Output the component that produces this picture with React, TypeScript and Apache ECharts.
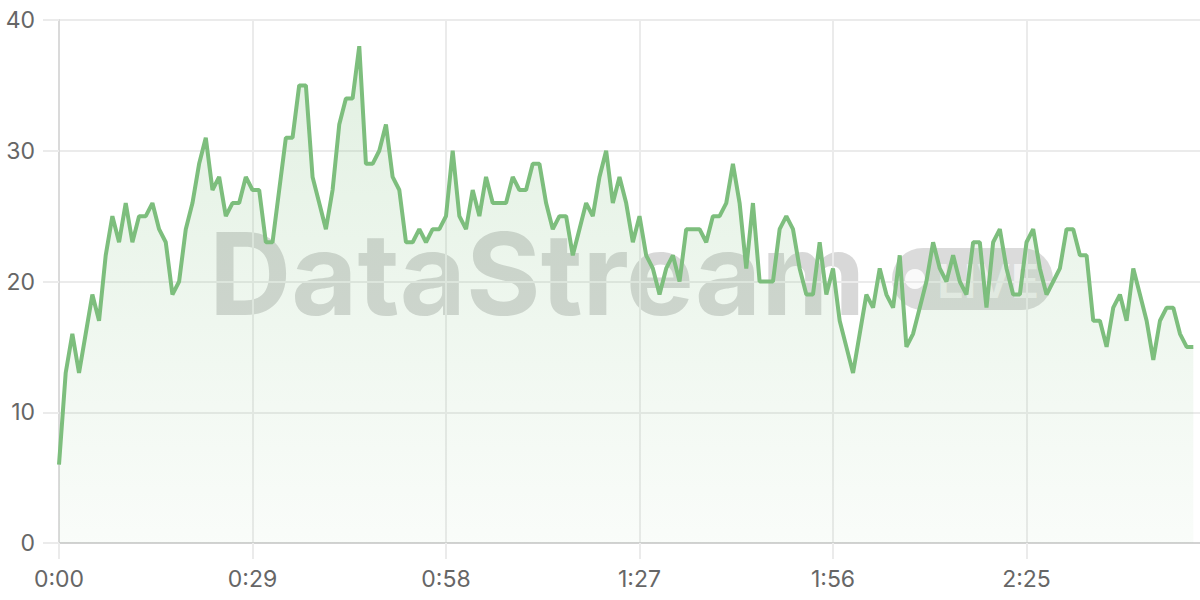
import React, { useEffect, useRef } from "react";
import * as echarts from "echarts";

// one sample per second
const values: number[] = [
  6, 13, 16, 13, 16, 19, 17, 22, 25, 23, 26, 23, 25, 25, 26, 24, 23, 19, 20, 24,
  26, 29, 31, 27, 28, 25, 26, 26, 28, 27, 27, 23, 23, 27, 31, 31, 35, 35, 28, 26,
  24, 27, 32, 34, 34, 38, 29, 29, 30, 32, 28, 27, 23, 23, 24, 23, 24, 24, 25, 30,
  25, 24, 27, 25, 28, 26, 26, 26, 28, 27, 27, 29, 29, 26, 24, 25, 25, 22, 24, 26,
  25, 28, 30, 26, 28, 26, 23, 25, 22, 21, 19, 21, 22, 20, 24, 24, 24, 23, 25, 25,
  26, 29, 26, 21, 26, 20, 20, 20, 24, 25, 24, 21, 19, 19, 23, 19, 21, 17, 15, 13,
  16, 19, 18, 21, 19, 18, 22, 15, 16, 18, 20, 23, 21, 20, 22, 20, 19, 23, 23, 18,
  23, 24, 21, 19, 19, 23, 24, 21, 19, 20, 21, 24, 24, 22, 22, 17, 17, 15, 18, 19,
  17, 21, 19, 17, 14, 17, 18, 18, 16, 15, 15,
];

const totalSeconds = 172;
const yTicks = { min: 0, max: 40, step: 10 };
const labelEvery = 29;

const fmtTime = (s: number) => `${Math.floor(s / 60)}:${String(s % 60).padStart(2, "0")}`;
const categories: string[] = Array.from({ length: totalSeconds }, (_, s) => fmtTime(s));

const LINE = "#7dbe7d";
const FONT = "Inter, 'Noto Sans', sans-serif";

const App: React.FC = () => {
  const chartRef = useRef<HTMLDivElement>(null);

  useEffect(() => {
    if (!chartRef.current) return;
    const chart = echarts.init(chartRef.current, undefined, { renderer: "svg" });

    const option: echarts.EChartsOption = {
      animation: false,
      grid: { left: 59, right: 0, top: 20, bottom: 57 },
      graphic: [
        {
          type: "text",
          left: 209,
          top: 216,
          style: {
            text: "DataStream",
            font: `700 114px ${FONT}`,
            fill: "rgba(105,105,105,0.26)",
          },
        },
        {
          type: "rect",
          shape: { x: 892, y: 248, width: 161, height: 62, r: 31 },
          style: { fill: "rgba(110,110,110,0.25)" },
        },
        {
          type: "circle",
          shape: { cx: 915, cy: 279, r: 10 },
          style: { fill: "rgba(255,255,255,0.85)" },
        },
        {
          type: "text",
          x: 937,
          y: 280,
          style: {
            text: "LIVE",
            font: `600 47px ${FONT}`,
            fill: "rgba(255,255,255,0.6)",
            verticalAlign: "middle",
          },
        },
      ],
      xAxis: {
        type: "category",
        data: categories,
        boundaryGap: false,
        axisLine: { lineStyle: { color: "#d2d2d2", width: 2 } },
        axisTick: {
          show: true,
          interval: labelEvery - 1,
          length: 16,
          lineStyle: { color: "#ebebeb", width: 2 },
        },
        axisLabel: {
          interval: labelEvery - 1,
          margin: 24,
          color: "#666",
          fontSize: 23,
          fontFamily: FONT,
        },
        splitLine: {
          show: true,
          interval: labelEvery - 1,
          lineStyle: { color: "#ebebeb", width: 2 },
        },
      },
      yAxis: {
        type: "value",
        min: yTicks.min,
        max: yTicks.max,
        interval: yTicks.step,
        axisLine: { show: true, lineStyle: { color: "#dadada", width: 2 } },
        axisTick: { show: true, length: 16, lineStyle: { color: "#ebebeb", width: 2 } },
        axisLabel: { margin: 24, color: "#666", fontSize: 23, fontFamily: FONT },
        splitLine: { lineStyle: { color: "#ebebeb", width: 2 } },
      },
      series: [
        {
          type: "line",
          data: values,
          symbol: "none",
          lineStyle: { color: LINE, width: 4 },
          itemStyle: { color: LINE },
          areaStyle: {
            color: new echarts.graphic.LinearGradient(0, 0, 0, 1, [
              { offset: 0, color: "rgba(125,190,125,0.32)" },
              { offset: 1, color: "rgba(125,190,125,0.06)" },
            ]),
            origin: "start",
          },
        },
      ],
    };

    chart.setOption(option);
    return () => chart.dispose();
  }, []);

  return (
    <div
      ref={chartRef}
      style={{ position: "fixed", left: 0, top: 0, width: "1200px", height: "600px", background: "#fff" }}
    />
  );
};

export default App;
